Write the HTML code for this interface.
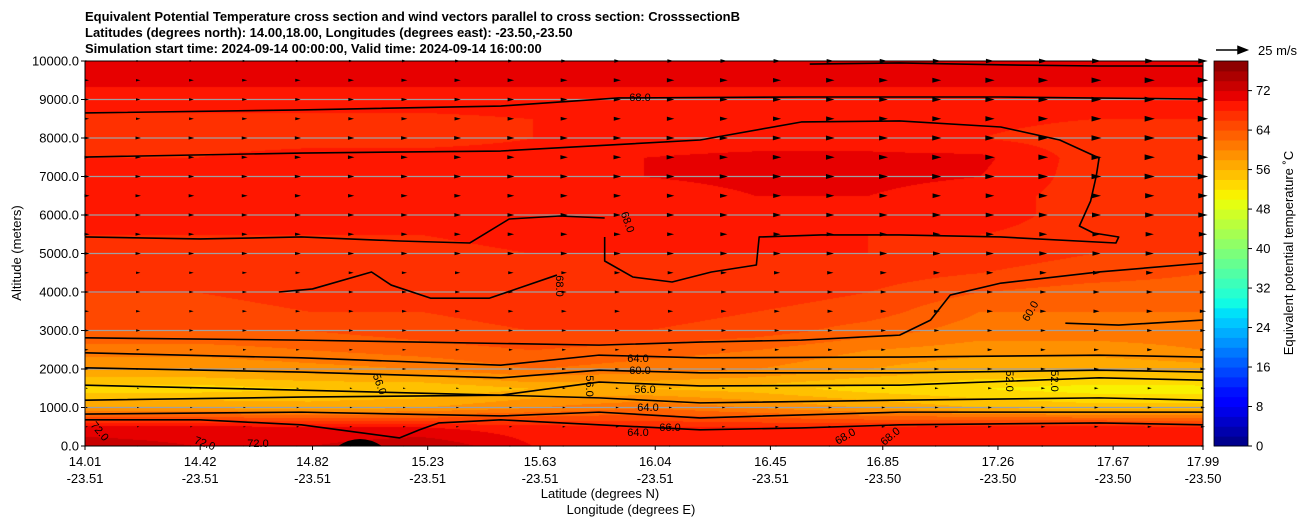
<!DOCTYPE html>
<html><head><meta charset="utf-8">
<style>
body{margin:0;background:#fff;font-family:"Liberation Sans","DejaVu Sans",sans-serif;}
#wrap{position:relative;width:1308px;height:526px;overflow:hidden;}
.t{position:absolute;font-size:13px;color:#000;white-space:nowrap;}
</style></head><body>
<div id="wrap">
<div class="t" style="left:85px;top:9px;font-weight:bold;line-height:16px;">Equivalent Potential Temperature cross section and wind vectors parallel to cross section: CrosssectionB<br>Latitudes (degrees north): 14.00,18.00, Longitudes (degrees east): -23.50,-23.50<br>Simulation start time: 2024-09-14 00:00:00, Valid time: 2024-09-14 16:00:00</div>
<canvas id="cv" width="1118" height="385" style="position:absolute;left:85px;top:61px;"></canvas>
<svg id="sv" width="1308" height="526" style="position:absolute;left:0;top:0;"></svg>
</div>
<script>
const lonTicks=["14.01","14.42","14.82","15.23","15.63","16.04","16.45","16.85","17.26","17.67","17.99"];
const latTicks=["-23.51","-23.51","-23.51","-23.51","-23.51","-23.51","-23.51","-23.50","-23.50","-23.50","-23.50"];
const altLevels=[0,500,1000,1500,2000,2500,3000,3500,4000,4500,5000,5500,6000,6500,7000,7500,8000,8500,9000,9500,10000];
const tempRows=[
[73,72,72,74,70,70,70,69,70,70,70],
[71,71,70,70,69,68,68,68,69,69,68],
[58,58,57,58,60,62,60,58,56,55,55],
[53,53,54,54,56,56,55,53,52,51,51],
[58,58,59,60,62,61,60,58,56,56,57],
[61,61,62,63,64,63,62,60,59,59,60],
[64,64,64,65,66,66,65,63,61,61,61],
[65,65,66,66,67,67,66,65,62,62,62],
[66,66,67,66,67,67,67,66,64,63,63],
[66,67,67,66,66,67,67,67,66,65,64],
[67,67,67,67,68,68,68,68,67,66,66],
[68,68,68,68,69,69,68,68,68,67,66],
[69,69,69,68,69,69,69,69,69,67,67],
[69,69,69,69,69,69,70,70,69,67,67],
[69,69,69,69,69,70,70.5,70.5,70,67,67],
[68,68,69,69,69,70,70.5,70.5,70.5,67,67],
[67,67,67,67,68,69,69,69,68,67,67],
[67.5,67.5,67.5,67.5,68,68.5,68.5,68.5,68.5,68,68],
[69,69,69,69,69,69,69,69,69,69,69],
[70.5,70.5,70.5,70.5,70.5,70.5,70.5,70.5,70.5,70.5,70.5],
[71,71,71,71,71,71,71,71,71,71,71]];
const windLeft=[2,2,2,2,3,3,4,4,4,4,5,5,5,5,5,5,5,4,4,4,3];
const windRight=[3,4,4,4,5,5,5,6,6,7,8,8,9,9,10,10,10,10,10,10,9];
const cbTicks=[0,8,16,24,32,40,48,56,64,72];
const c72Lon=[16.59,16.91,17.27,17.62,17.99];const c72Alt=[9920,9950,9900,9870,9870];
const c70Lon=[14.01,14.78,15.49,15.91,16.56,17.27,17.99];const c70Alt=[8650,8730,8830,9040,9065,9065,9010];
const c68aLon=[14.01,14.78,15.49,16.2,16.56,16.91,17.27,17.48,17.62,17.61,17.59,17.55,17.6,17.69,17.68,17.27,16.91,16.63,16.41,16.4,16.24,16.1,15.96,15.86,15.86];
const c68aAlt=[7506,7610,7662,7948,8416,8442,8286,7948,7480,7013,6364,5714,5532,5429,5273,5429,5481,5481,5429,4701,4520,4260,4390,4805,5429];
const c68bLon=[14.01,14.42,14.78,15.13,15.38,15.52,15.7,15.86];const c68bAlt=[5429,5377,5429,5325,5273,5896,5974,5922];
const c66Lon=[14.7,14.82,15.03,15.1,15.24,15.45,15.69];const c66Alt=[4000,4080,4520,4180,3840,3840,4440];
const c60rLon=[14.01,14.78,15.84,16.2,16.56,16.91,17.02,17.09,17.27,17.62,17.99];const c60rAlt=[2810,2750,2620,2700,2750,2880,3270,3920,4230,4520,4750];
const c62Lon=[17.5,17.69,17.99];const c62Alt=[3190,3140,3270];
const c64Lon=[14.01,14.78,15.49,15.84,16.2,16.91,17.62,17.99];const c64Alt=[2420,2290,2100,2360,2290,2310,2360,2310];
const c60Lon=[14.01,14.78,15.49,15.84,16.2,16.91,17.62,17.99];const c60Alt=[2030,1920,1770,1970,1900,1900,1970,1920];
const c56Lon=[14.01,14.78,15.49,15.84,16.2,16.91,17.62,17.99];const c56Alt=[1580,1450,1320,1660,1560,1580,1770,1710];
const c54Lon=[14.01,14.78,15.49,15.84,16.2,16.91,17.62,17.99];const c54Alt=[1190,1270,1320,1250,1120,1190,1250,1190];
const c64lLon=[14.01,14.78,15.49,15.84,16.2,16.91,17.62,17.99];const c64lAlt=[830,880,780,880,730,880,880,880];
const c68lLon=[14.01,14.42,14.78,15.13,15.2,15.27,15.49,15.84,16.2,16.56,16.91,17.62,17.99];const c68lAlt=[680,680,550,210,420,600,680,550,420,470,550,600,550];

const X0=85,X1=1203,Y0=61,Y1=446,LON0=14.01,LON1=17.99;
const xs=lon=>X0+(lon-LON0)/(LON1-LON0)*(X1-X0);
const ys=a=>Y1-a/10000*(Y1-Y0);
function jet(f){const seg=(p,x)=>{for(let i=1;i<p.length;i++){if(x<=p[i][0]){const a=p[i-1],b=p[i];return a[1]+(b[1]-a[1])*(x-a[0])/(b[0]-a[0]);}}return p[p.length-1][1];};
 const r=seg([[0,0],[0.35,0],[0.66,1],[0.89,1],[1,0.5]],f),g=seg([[0,0],[0.125,0],[0.375,1],[0.64,1],[0.91,0],[1,0]],f),b=seg([[0,0.5],[0.11,1],[0.34,1],[0.65,0],[1,0]],f);
 return [r*255|0,g*255|0,b*255|0];}
const VMAX=78;
function bandColor(v){let lv=Math.floor(v/2)*2;lv=Math.max(0,Math.min(76,lv));return jet((lv+1)/VMAX);}
const cv=document.getElementById('cv'),ctx=cv.getContext('2d'),W=1118,H=385,img=ctx.createImageData(W,H);
const nc=lonTicks.length-1;
for(let py=0;py<H;py++){const alt=(H-py)/H*10000;let r=Math.min(19,Math.floor(alt/500));const fy=(alt-r*500)/500;
 for(let px=0;px<W;px++){const cx=px/W*nc;let c=Math.min(nc-1,Math.floor(cx));const fx=cx-c;
  const v=(tempRows[r][c]*(1-fx)+tempRows[r][c+1]*fx)*(1-fy)+(tempRows[r+1][c]*(1-fx)+tempRows[r+1][c+1]*fx)*fy;
  const col=bandColor(v),i=(py*W+px)*4;img.data[i]=col[0];img.data[i+1]=col[1];img.data[i+2]=col[2];img.data[i+3]=255;}}
ctx.putImageData(img,0,0);
const sv=document.getElementById('sv'),NS='http://www.w3.org/2000/svg';
function mk(tag,at,parent){const e=document.createElementNS(NS,tag);for(const k in at)e.setAttribute(k,at[k]);(parent||sv).appendChild(e);return e;}
for(let a=1000;a<=9000;a+=1000){const l=mk('line',{x1:X0,x2:X1,y1:ys(a),y2:ys(a),stroke:'#a0a0a0','stroke-width':1.2});

}
const contours=[[c72Lon,c72Alt],[c70Lon,c70Alt],[c68aLon,c68aAlt],[c68bLon,c68bAlt],[c66Lon,c66Alt],[c60rLon,c60rAlt],[c62Lon,c62Alt],[c64Lon,c64Alt],[c60Lon,c60Alt],[c56Lon,c56Alt],[c54Lon,c54Alt],[c64lLon,c64lAlt],[c68lLon,c68lAlt]];
contours.forEach(([lo,al])=>{const p=mk('polyline',{points:lo.map((v,i)=>xs(v)+','+ys(al[i])).join(' '),fill:'none',stroke:'#000','stroke-width':1.6,'stroke-linejoin':'round'});

});
const tb=mk('path',{d:'M338 446 Q360 432 382 446 Z',fill:'#000'});


const cl=[["68.0",640,101,0],["64.0",638,362,0],["60.0",640,374,0],["56.0",645,393,0],["64.0",648,411,0],["66.0",670,431,0],["64.0",638,436,0],["72.0",205,447,20],["72.0",258,447,0],["68.0",628,226,70],["68.0",560,290,90],["60.0",1030,315,-60],["52.0",1010,385,90],["52.0",1055,385,90],["56.0",590,390,90],["56.0",380,388,70],["68.0",845,440,-30],["68.0",890,440,-40],["72.0",100,435,50]];
cl.forEach(([t,x,y,r])=>{const e=mk('text',{x:x,y:y,'font-size':11,'text-anchor':'middle',transform:`rotate(${r} ${x} ${y-4})`});e.textContent=t;

});
// wind arrows (heads only, size by speed)
for(let r=0;r<altLevels.length;r++){for(let k=0;k<=21;k++){const fx=k/21;const sp=windLeft[r]*(1-fx)+windRight[r]*fx;const x=X0+k*(X1-X0)/21+ (k==0?2:0),y=ys(altLevels[r]);const L=sp*1.05,h=L*0.28;
 const a=mk('path',{d:`M${x-L/2} ${y-h} L${x+L/2} ${y} L${x-L/2} ${y+h} Z`,fill:'#000'});
 
 }}
const fr=mk('rect',{x:X0,y:Y0,width:X1-X0,height:Y1-Y0,fill:'none',stroke:'#000','stroke-width':1});


for(let a=0;a<=10000;a+=1000){const y=ys(a);mk('line',{x1:X0-4,x2:X0,y1:y,y2:y,stroke:'#000'});
const t=mk('text',{x:X0-6,y:y+4.5,'font-size':13,'text-anchor':'end'});t.textContent=a.toFixed(1);

}
lonTicks.forEach((lb,i)=>{const x=xs(parseFloat(lb));mk('line',{x1:x,x2:x,y1:Y1,y2:Y1+4,stroke:'#000'});
const t=mk('text',{x:x,y:466,'font-size':13,'text-anchor':'middle'});t.textContent=lb;


const t2=mk('text',{x:x,y:483,'font-size':13,'text-anchor':'middle'});t2.textContent=latTicks[i];

});
const xt=mk('text',{x:600,y:498,'font-size':13,'text-anchor':'middle'});xt.textContent='Latitude (degrees N)';


const xt2=mk('text',{x:631,y:514,'font-size':13,'text-anchor':'middle'});xt2.textContent='Longitude (degrees E)';


const yt=mk('text',{x:21,y:253,'font-size':13,'text-anchor':'middle',transform:'rotate(-90 21 253)'});yt.textContent='Altitude (meters)';


const CB0=1214,CB1=1248,cbs=v=>Y1-v/VMAX*(Y1-Y0);
for(let lv=0;lv<VMAX;lv+=2){const c=jet((lv+1)/VMAX);const b=mk('rect',{x:CB0,y:cbs(lv+2),width:CB1-CB0,height:cbs(lv)-cbs(lv+2)+0.5,fill:`rgb(${c})`});

}
mk('rect',{x:CB0,y:Y0,width:CB1-CB0,height:Y1-Y0,fill:'none',stroke:'#000','stroke-width':0.8});
cbTicks.forEach(v=>{const y=cbs(v);mk('line',{x1:CB1,x2:CB1+4,y1:y,y2:y,stroke:'#000'});
const t=mk('text',{x:CB1+8,y:y+4.5,'font-size':13});t.textContent=v;

});
const ct=mk('text',{x:1293,y:253,'font-size':13,'text-anchor':'middle',transform:'rotate(-90 1293 253)'});ct.textContent='Equivalent potential temperature \u02DAC';


const qk=mk('path',{d:'M1216 50 L1246 50 M1238 46.5 L1247 50 L1238 53.5 Z',stroke:'#000','stroke-width':1.5,fill:'#000'});


const qt=mk('text',{x:1258,y:55,'font-size':13});qt.textContent='25 m/s';


</script>
</body></html>
